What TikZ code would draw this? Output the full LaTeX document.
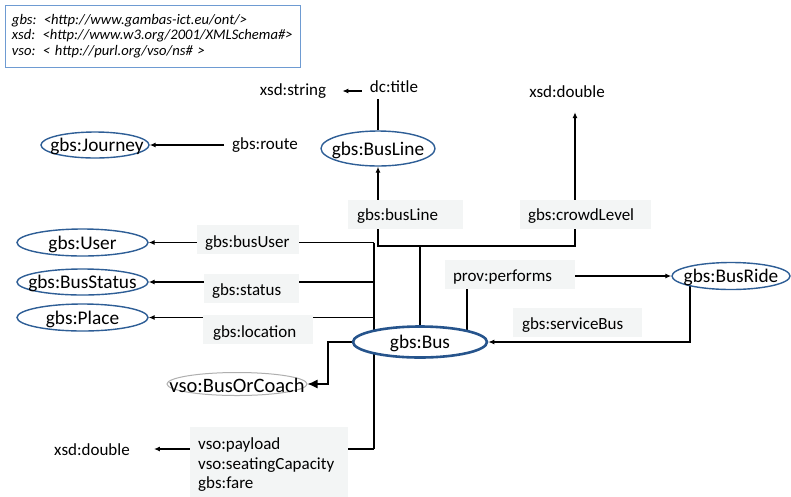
\documentclass[tikz,border=0pt]{standalone}
\usepackage{fontspec}
\setmainfont{Carlito}
\usetikzlibrary{arrows.meta,shapes.geometric,backgrounds}
\definecolor{clsblue}{RGB}{46,94,150}
\definecolor{busblue}{RGB}{38,84,140}
\definecolor{bocgray}{RGB}{175,175,175}
\definecolor{lblgray}{RGB}{243,245,245}
\definecolor{nsblue}{RGB}{110,155,210}
\newcommand\myclsfont{\fontsize{19.3}{22}\selectfont}
\newcommand\mybigfont{\fontsize{20.5}{22}\selectfont}
\newcommand\mylblfont{\fontsize{17}{19.5}\selectfont}
\newcommand\mynsfont{\fontsize{14.6}{15.5}\selectfont\itshape}
\tikzset{
  ctext/.style={font=\myclsfont, inner sep=0pt, yshift=-1.5pt},
  clsshape/.style 2 args={ellipse, draw=clsblue, line width=1.4pt, fill=white,
     inner sep=0pt, minimum width=#1, minimum height=#2},
  cls/.style n args={3}{clsshape={#1}{#2}, label={[ctext]center:{#3}}},
  ltext/.style={font=\mylblfont, inner sep=0pt},
  lblbox/.style n args={5}{rectangle, fill=lblgray, inner sep=0pt,
     minimum width=#1, minimum height=#2,
     label={[ltext, anchor=west, xshift=#3, yshift=#4]west:{#5}}},
  plain/.style={font=\mylblfont, inner sep=0pt},
  conn/.style={line width=1.2pt, black},
  arr/.style={-{Latex[length=6pt,width=5pt]}},
  bigarr/.style={-{Latex[length=10pt,width=9pt]}},
  nsbox/.style={draw=nsblue, line width=1pt, fill=white, inner xsep=7pt, inner ysep=0pt,
     minimum width=295pt, minimum height=62pt, text width=281pt, align=left, font=\mynsfont}
}
\begin{document}
\begin{tikzpicture}[x=1pt,y=-1pt]
\useasboundingbox (0,0) rectangle (791,496);

% namespace box
\node[nsbox] (ns) at (152.5,36) {gbs: <http://www.gambas-ict.eu/ont/>\\
xsd: <http://www.w3.org/2001/XMLSchema\#>\\
vso: < http://purl.org/vso/ns\# >};

% plain texts
\node[plain] (xsdstring) at (293,91) {xsd:string};
\node[plain] (dctitle) at (394,87) {dc:title};
\node[plain] (xsddtop) at (567,92) {xsd:double};
\node[plain] (route) at (265,145) {gbs:route};
\node[plain] (xsddbot) at (92,450) {xsd:double};

% classes
\node[clsshape={108pt}{26pt}, label={[ctext, xshift=2pt]center:{gbs:Journey}}] (journey) at (95,145) {};
\node[cls={114pt}{35pt}{gbs:BusLine}] (busline) at (378,148.5) {};
\node[cls={131pt}{27pt}{gbs:User}] (user) at (82.5,242.5) {};
\node[cls={131pt}{26pt}{gbs:BusStatus}] (bstatus) at (82.5,282) {};
\node[cls={131pt}{27pt}{gbs:Place}] (place) at (82.5,317.5) {};
\node[cls={118pt}{27pt}{gbs:BusRide}] (busride) at (731,276) {};
\node[ellipse, draw=busblue, line width=2.6pt, fill=white, inner sep=0pt,
      minimum width=134pt, minimum height=31pt,
      label={[ctext]center:{gbs:Bus}}] (bus) at (420,342) {};
\node[ellipse, draw=bocgray, line width=1pt, fill=white, inner sep=0pt,
      minimum width=140pt, minimum height=23pt,
      label={[ctext, font=\mybigfont]center:{vso:BusOrCoach}}] (boc) at (237,384) {};

% property label boxes
\node[lblbox={115pt}{29pt}{9pt}{-1.5pt}{gbs:busLine}] (busLineL) at (405.5,214.5) {};
\node[lblbox={131pt}{29pt}{8pt}{-1.5pt}{gbs:crowdLevel}] (crowdL) at (585.5,214.5) {};
\node[lblbox={102pt}{29pt}{8pt}{-3.5pt}{gbs:busUser}] (busUserL) at (248,239.5) {};
\node[lblbox={95pt}{29pt}{8pt}{-2.5pt}{gbs:status}] (statusL) at (251.5,288.5) {};
\node[lblbox={110pt}{29pt}{10pt}{-3.5pt}{gbs:location}] (locationL) at (258,329.5) {};
\node[lblbox={130pt}{29pt}{8pt}{-2.5pt}{prov:performs}] (performsL) at (510,274.5) {};
\node[lblbox={129pt}{29pt}{9pt}{-2.5pt}{gbs:serviceBus}] (serviceBusL) at (577.5,322.5) {};
\node[rectangle, fill=lblgray, anchor=north west, minimum width=158pt, minimum height=75pt,
      inner xsep=8pt, inner ysep=0pt, text width=142pt, align=left, font=\mylblfont] (payloadL) at (190,427)
      {vso:payload\\vso:seatingCapacity\\gbs:fare};

% junction coordinates
\coordinate (jl) at (378,246);
\coordinate (jm) at (420,246);
\coordinate (jr) at (575,246);
\coordinate (ct) at (374,243);
\coordinate (cb) at (374,449);
\coordinate (cboc) at (328,384);
\coordinate (pf) at (467,342);
\coordinate (sbc) at (690,342);

\begin{scope}[on background layer]
\draw[conn, arr, shorten <=8pt, shorten >=16pt] (dctitle.west |- xsdstring) -- (xsdstring.east);
\draw[conn, shorten >=6pt] (busline.north) -- (busline.north |- dctitle.south);
\draw[conn, arr] (busLineL.north -| busline) -- (busline.south);
\draw[conn, arr, shorten >=14pt] (crowdL.north -| jr) -- (jr |- xsddtop.south);
\draw[conn] (busLineL.south -| jl) -- (jl) -- (jr) -- (crowdL.south -| jr);
\draw[conn] (jm) -- (bus.north);
\draw[conn, arr, shorten <=8pt] (route.west) -- (journey.east);
\draw[conn] (ct) -- (cb);
\draw[conn, arr] (ct |- user) -- (user.east);
\draw[conn, arr] (ct |- bstatus) -- (bstatus.east);
\draw[conn, arr] (ct |- place) -- (place.east);
\draw[conn, arr, shorten >=24pt] (cb) -- (cb -| xsddbot.east);
\draw[conn, bigarr] (bus.west) -| (cboc) -- (boc.east);
\draw[conn, arr] (performsL.east |- busride) -- (busride.west);
\draw[conn] (performsL.south -| pf) -- (pf);
\draw[conn, arr] (busride.center -| sbc) -- (sbc) -- (bus.east);
\end{scope}
\end{tikzpicture}
\end{document}
